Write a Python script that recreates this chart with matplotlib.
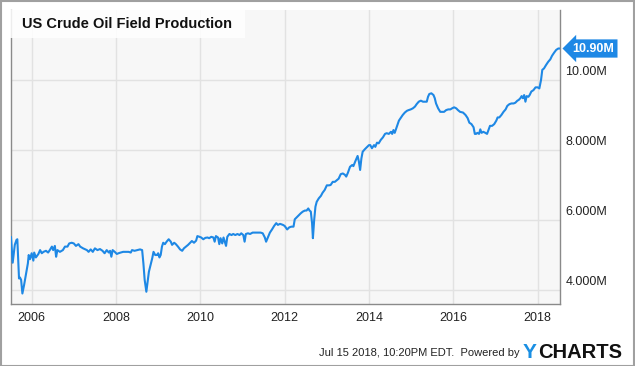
import matplotlib
matplotlib.use("Agg")
import matplotlib.pyplot as plt
from matplotlib.patches import Rectangle

plt.rcParams['font.family'] = ['Liberation Sans', 'DejaVu Sans']

# US crude oil field production, millions of barrels per day
years = [
    2005.51, 2005.55, 2005.60, 2005.64, 2005.66, 2005.70, 2005.72, 2005.75, 2005.78, 2005.82,
    2005.87, 2005.91, 2005.93, 2005.96, 2006.00, 2006.04, 2006.06, 2006.10, 2006.16, 2006.20,
    2006.24, 2006.28, 2006.34, 2006.39, 2006.43, 2006.48, 2006.51, 2006.55, 2006.58, 2006.61,
    2006.67, 2006.74, 2006.79, 2006.85, 2006.89, 2006.95, 2007.00, 2007.05, 2007.11, 2007.15,
    2007.22, 2007.31, 2007.35, 2007.40, 2007.45, 2007.50, 2007.56, 2007.62, 2007.68, 2007.73,
    2007.78, 2007.83, 2007.86, 2007.89, 2007.92, 2007.97, 2008.02, 2008.06, 2008.11, 2008.17,
    2008.24, 2008.30, 2008.35, 2008.38, 2008.44, 2008.51, 2008.57, 2008.62, 2008.65, 2008.68,
    2008.72, 2008.75, 2008.78, 2008.82, 2008.86, 2008.89, 2008.93, 2008.97, 2009.00, 2009.03,
    2009.06, 2009.09, 2009.12, 2009.16, 2009.20, 2009.25, 2009.30, 2009.33, 2009.38, 2009.42,
    2009.47, 2009.52, 2009.57, 2009.61, 2009.66, 2009.71, 2009.76, 2009.80, 2009.85, 2009.90,
    2009.93, 2009.98, 2010.02, 2010.07, 2010.12, 2010.17, 2010.21, 2010.26, 2010.31, 2010.34,
    2010.37, 2010.42, 2010.45, 2010.48, 2010.52, 2010.55, 2010.58, 2010.61, 2010.64, 2010.69,
    2010.74, 2010.78, 2010.83, 2010.88, 2010.93, 2010.97, 2011.02, 2011.05, 2011.08, 2011.13,
    2011.18, 2011.24, 2011.31, 2011.37, 2011.43, 2011.48, 2011.53, 2011.56, 2011.61, 2011.65,
    2011.70, 2011.75, 2011.80, 2011.84, 2011.89, 2011.96, 2012.00, 2012.06, 2012.11, 2012.16,
    2012.21, 2012.24, 2012.29, 2012.34, 2012.38, 2012.43, 2012.48, 2012.52, 2012.56, 2012.59,
    2012.62, 2012.65, 2012.67, 2012.70, 2012.73, 2012.76, 2012.81, 2012.86, 2012.90, 2012.95,
    2013.00, 2013.05, 2013.09, 2013.14, 2013.19, 2013.24, 2013.28, 2013.33, 2013.38, 2013.43,
    2013.46, 2013.50, 2013.55, 2013.60, 2013.63, 2013.68, 2013.73, 2013.76, 2013.79, 2013.82,
    2013.85, 2013.90, 2013.95, 2014.00, 2014.03, 2014.07, 2014.12, 2014.15, 2014.19, 2014.23,
    2014.28, 2014.33, 2014.38, 2014.42, 2014.47, 2014.52, 2014.55, 2014.58, 2014.61, 2014.66,
    2014.71, 2014.75, 2014.80, 2014.85, 2014.90, 2014.94, 2014.99, 2015.04, 2015.09, 2015.13,
    2015.18, 2015.23, 2015.28, 2015.32, 2015.37, 2015.40, 2015.43, 2015.48, 2015.53, 2015.56,
    2015.59, 2015.64, 2015.69, 2015.74, 2015.78, 2015.83, 2015.88, 2015.93, 2015.97, 2016.02,
    2016.07, 2016.11, 2016.16, 2016.23, 2016.29, 2016.34, 2016.38, 2016.43, 2016.48, 2016.51,
    2016.54, 2016.57, 2016.61, 2016.64, 2016.67, 2016.71, 2016.76, 2016.80, 2016.84, 2016.87,
    2016.92, 2016.97, 2017.02, 2017.05, 2017.09, 2017.14, 2017.19, 2017.24, 2017.28, 2017.33,
    2017.38, 2017.43, 2017.47, 2017.52, 2017.55, 2017.59, 2017.62, 2017.65, 2017.68, 2017.71,
    2017.74, 2017.78, 2017.81, 2017.85, 2017.90, 2017.95, 2018.00, 2018.04, 2018.08, 2018.11,
    2018.15, 2018.20, 2018.25, 2018.30, 2018.34, 2018.39, 2018.44, 2018.49, 2018.53,
]
production = [
    5.51, 4.78, 5.29, 5.43, 5.45, 4.33, 4.36, 4.29, 3.90, 4.14,
    4.48, 4.76, 5.00, 4.88, 5.05, 4.84, 5.07, 4.93, 5.03, 5.14,
    5.05, 5.09, 5.12, 5.07, 5.14, 5.24, 5.14, 5.26, 4.95, 5.14,
    5.09, 5.14, 5.24, 5.24, 5.33, 5.35, 5.33, 5.26, 5.31, 5.24,
    5.19, 5.14, 5.09, 5.16, 5.09, 5.19, 5.14, 5.17, 5.12, 5.05,
    5.14, 5.07, 5.12, 4.95, 5.14, 5.09, 5.03, 5.05, 5.07, 5.09,
    5.09, 5.09, 5.07, 5.14, 5.12, 5.14, 5.16, 5.14, 4.76, 4.29,
    3.95, 4.24, 4.52, 4.71, 4.91, 5.09, 5.00, 5.00, 5.05, 4.93,
    5.00, 5.24, 5.35, 5.31, 5.38, 5.45, 5.38, 5.29, 5.35, 5.31,
    5.24, 5.16, 5.12, 5.19, 5.24, 5.29, 5.35, 5.40, 5.35, 5.41,
    5.54, 5.52, 5.50, 5.45, 5.49, 5.50, 5.48, 5.52, 5.50, 5.38,
    5.54, 5.50, 5.31, 5.48, 5.33, 5.50, 5.38, 5.26, 5.52, 5.60,
    5.57, 5.60, 5.57, 5.60, 5.57, 5.62, 5.57, 5.38, 5.60, 5.62,
    5.60, 5.64, 5.64, 5.64, 5.64, 5.62, 5.50, 5.38, 5.52, 5.64,
    5.73, 5.83, 5.91, 5.86, 5.89, 5.86, 5.83, 5.73, 5.79, 5.81,
    5.81, 6.02, 6.08, 6.14, 6.19, 6.24, 6.27, 6.27, 6.33, 6.27,
    6.24, 5.91, 5.48, 6.00, 6.38, 6.52, 6.62, 6.69, 6.78, 6.86,
    6.99, 6.99, 7.00, 7.09, 7.09, 7.14, 7.18, 7.31, 7.33, 7.29,
    7.24, 7.35, 7.52, 7.57, 7.54, 7.69, 7.83, 7.67, 7.43, 7.76,
    7.95, 8.02, 8.08, 8.14, 8.14, 8.05, 8.14, 8.09, 8.21, 8.19,
    8.29, 8.36, 8.46, 8.48, 8.46, 8.52, 8.46, 8.57, 8.49, 8.67,
    8.84, 8.91, 9.00, 9.07, 9.12, 9.14, 9.16, 9.19, 9.24, 9.31,
    9.38, 9.41, 9.38, 9.38, 9.38, 9.52, 9.60, 9.62, 9.57, 9.48,
    9.33, 9.19, 9.09, 9.09, 9.09, 9.14, 9.16, 9.16, 9.19, 9.22,
    9.19, 9.14, 9.09, 9.07, 9.00, 8.91, 8.78, 8.74, 8.65, 8.46,
    8.46, 8.49, 8.46, 8.59, 8.49, 8.52, 8.49, 8.46, 8.59, 8.69,
    8.69, 8.74, 8.84, 8.93, 8.93, 9.00, 9.09, 9.16, 9.26, 9.31,
    9.33, 9.33, 9.35, 9.41, 9.43, 9.48, 9.54, 9.48, 9.57, 9.38,
    9.54, 9.52, 9.57, 9.67, 9.71, 9.79, 9.79, 9.76, 10.00, 10.29,
    10.33, 10.43, 10.52, 10.59, 10.69, 10.78, 10.86, 10.90, 10.90,
]
year_ticks = [2006, 2008, 2010, 2012, 2014, 2016, 2018]
value_ticks = [4, 6, 8, 10]
value_labels = ["4.000M", "6.000M", "8.000M", "10.00M"]

blue = "#1e88e5"
W, H = 635, 366

fig = plt.figure(figsize=(W / 100, H / 100), dpi=100)
ax = fig.add_axes([11 / W, 1 - 304 / H, 549 / W, 294 / H])
ax.set_facecolor("#f7f7f7")

ax.plot(years, production, color=blue, lw=1.5, zorder=3)

ax.set_xlim(2005.51, 2018.53)
ax.set_ylim(3.6, 12.0)

ax.set_xticks(year_ticks)
ax.set_xticklabels([str(y) for y in year_ticks], fontsize=9, color="#222222")
ax.tick_params(axis="x", length=0, pad=6)
ax.set_yticks(value_ticks)
ax.set_yticklabels([])
ax.tick_params(axis="y", length=0, right=False, left=False)
ax.grid(True, color="#e2e2e2", lw=1)
ax.set_axisbelow(True)

for v, lab in zip(value_ticks, value_labels):
    ax.annotate(lab, xy=(1, v), xycoords=("axes fraction", "data"),
                xytext=(4, 6), textcoords="offset points",
                ha="left", va="center", fontsize=9, color="#222222")

ax.spines["top"].set_visible(False)
for side in ["left", "right", "bottom"]:
    ax.spines[side].set_color("#8a8a8a")
    ax.spines[side].set_linewidth(1)

# last value badge
last = production[-1]
ax.annotate(f"{last:.2f}M", xy=(1, last), xycoords=("axes fraction", "data"),
            xytext=(9, 0), textcoords="offset points",
            ha="left", va="center", fontsize=9, fontweight="bold", color="white",
            bbox=dict(boxstyle="larrow,pad=0.25", fc=blue, ec="none"),
            annotation_clip=False)

# title box
ax.add_patch(Rectangle((10 / W, 1 - 38 / H), 235 / W, 28 / H, transform=fig.transFigure,
                       fc="white", ec="none", alpha=0.85, zorder=4, clip_on=False))
fig.text(22 / W, 1 - 24 / H, "US Crude Oil Field Production", fontsize=10.5,
         fontweight="bold", color="#111111", ha="left", va="center", zorder=5)

# footer
fig.text(520 / W, 1 - 353 / H, "Jul 15 2018, 10:20PM EDT.  Powered by",
         fontsize=8, color="#222222", ha="right", va="center")
fig.text(523 / W, 1 - 352 / H, "Y", fontsize=15, fontweight="bold",
         color="#1a8fe3", ha="left", va="center")
fig.text(538 / W, 1 - 352 / H, "CHARTS", fontsize=14.5, fontweight="bold",
         color="#111111", ha="left", va="center")

# outer frame
fig.patches.append(Rectangle((0.5 / W, 0.5 / H), 1 - 1.5 / W, 1 - 1.5 / H,
                             transform=fig.transFigure, fill=False,
                             ec="#a0a0a0", lw=1.5))

fig.savefig("out.png", dpi=100)
